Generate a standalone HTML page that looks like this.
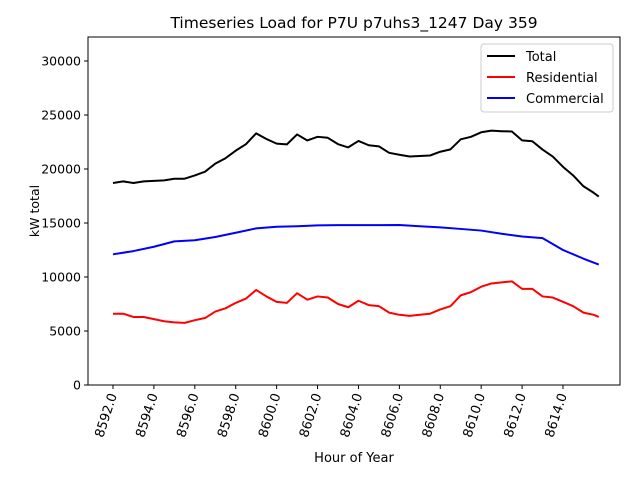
<!DOCTYPE html>
<html><head><meta charset="utf-8"><style>
body{margin:0;background:#fff;}
svg{font-family:"DejaVu Sans","Liberation Sans",sans-serif;}
</style></head><body>
<svg id="c" width="640" height="480" xmlns="http://www.w3.org/2000/svg"></svg>
<script>
const resHours=[8592,8592.5,8593,8593.5,8594,8594.5,8595,8595.5,8596,8596.5,8597,8597.5,8598,8598.5,8599,8599.5,8600,8600.5,8601,8601.5,8602,8602.5,8603,8603.5,8604,8604.5,8605,8605.5,8606,8606.5,8607,8607.5,8608,8608.5,8609,8609.5,8610,8610.5,8611,8611.5,8612,8612.5,8613,8613.5,8614,8614.5,8615,8615.5,8615.75];
const residential=[6600,6600,6300,6300,6100,5900,5800,5750,6000,6200,6800,7100,7600,8000,8800,8200,7700,7600,8500,7900,8200,8100,7500,7200,7800,7400,7300,6700,6500,6400,6500,6600,7000,7300,8300,8600,9100,9400,9500,9600,8900,8900,8200,8100,7700,7300,6700,6500,6300];
const total=[18700,18850,18700,18850,18900,18950,19100,19100,19400,19750,20500,21000,21700,22300,23300,22780,22350,22280,23200,22640,22980,22890,22300,22000,22600,22200,22100,21500,21320,21160,21200,21250,21600,21820,22750,22980,23400,23550,23500,23470,22650,22570,21800,21150,20200,19400,18400,17800,17450];
const comHours=[8592,8593,8594,8595,8596,8597,8598,8599,8600,8601,8602,8603,8604,8605,8606,8607,8608,8609,8610,8611,8612,8613,8614,8615,8615.75];
const commercial=[12100,12400,12800,13300,13400,13700,14100,14500,14650,14700,14780,14800,14800,14800,14820,14700,14600,14450,14300,14000,13750,13600,12500,11700,11150];
const xTicks=[8592,8594,8596,8598,8600,8602,8604,8606,8608,8610,8612,8614];
const yTicks=[0,5000,10000,15000,20000,25000,30000];
const L=88,R=620,T=37,B=385;
const sx=h=>113+(h-8592)*(450/22);
const sy=v=>B-v*(324/30000);
const svg=document.getElementById('c');
const NS='http://www.w3.org/2000/svg';
function mk(tag,attrs,parent){const e=document.createElementNS(NS,tag);for(const k in attrs)e.setAttribute(k,attrs[k]);(parent||svg).appendChild(e);return e;}
let t=mk('text',{x:354,y:28,'text-anchor':'middle','font-size':15.5});t.textContent='Timeseries Load for P7U p7uhs3_1247  Day 359';


yTicks.forEach(v=>{const y=sy(v);mk('line',{x1:L-4,x2:L,y1:y,y2:y,stroke:'#000'});
 const tx=mk('text',{x:L-7,y:y+4.5,'text-anchor':'end','font-size':12.5});tx.textContent=v;
 
 });
xTicks.forEach(h=>{const x=sx(h);mk('line',{x1:x,x2:x,y1:B,y2:B+4,stroke:'#000'});
 const tx=mk('text',{x:x+4,y:B+10,'text-anchor':'end','font-size':13,transform:`rotate(-72 ${x+4} ${B+10})`});tx.textContent=h.toFixed(1);
 
 });
function line(xs,ys,color,name){const p=mk('polyline',{points:xs.map((h,i)=>sx(h)+','+sy(ys[i])).join(' '),fill:'none',stroke:color,'stroke-width':2,'stroke-linejoin':'round'});
 
 }
line(resHours,total,'#000','total-line');
line(resHours,residential,'#f00','residential-line');
line(comHours,commercial,'#00f','commercial-line');
const fr=mk('rect',{x:L,y:T,width:R-L,height:B-T,fill:'none',stroke:'#000','stroke-width':1});


let xl=mk('text',{x:354,y:462,'text-anchor':'middle','font-size':13});xl.textContent='Hour of Year';


let yl=mk('text',{x:0,y:0,'text-anchor':'middle','font-size':12.5,transform:'translate(39 211) rotate(-90)'});yl.textContent='kW total';


const lg=mk('g',{});


mk('rect',{x:481,y:44,width:132,height:68,rx:3,fill:'#fff',stroke:'#ccc'},lg);
[['Total','#000',56],['Residential','#f00',77],['Commercial','#00f',98]].forEach(([n,c,y])=>{
 mk('line',{x1:487,x2:515,y1:y,y2:y,stroke:c,'stroke-width':2},lg);
 const e=mk('text',{x:526,y:y+5,'font-size':13},lg);e.textContent=n;
 
 });
</script>
</body></html>
